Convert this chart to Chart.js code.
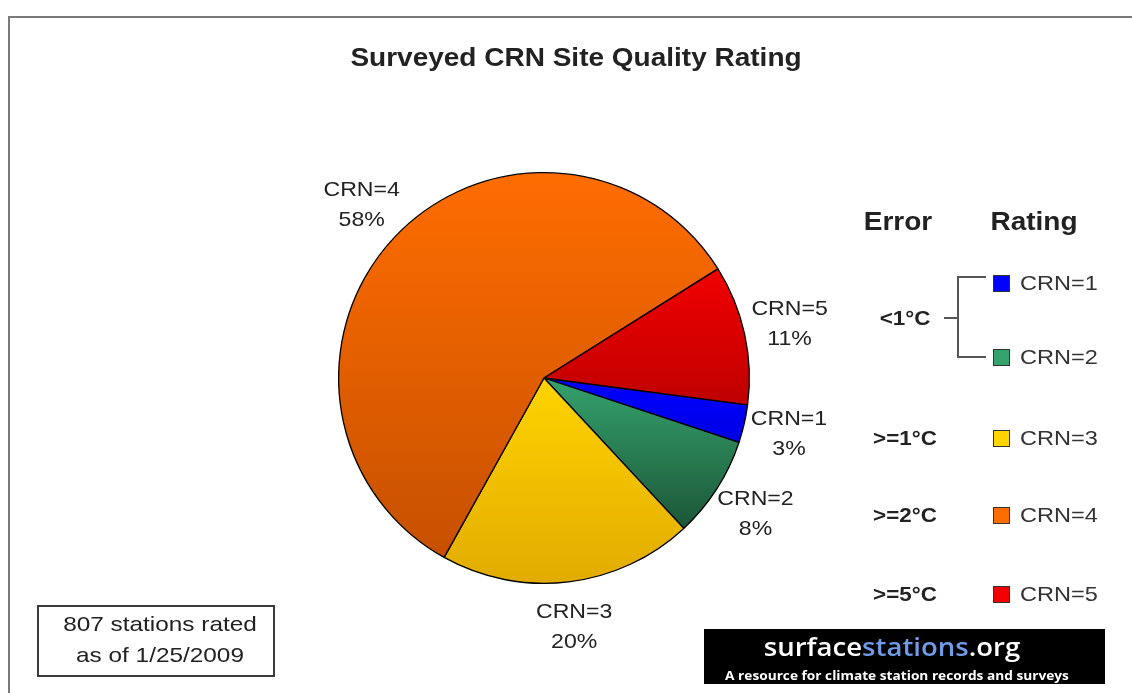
<!DOCTYPE html>
<html>
<head>
<meta charset="utf-8">
<title>Surveyed CRN Site Quality Rating</title>
<script src="https://cdn.jsdelivr.net/npm/chart.js@4.4.1/dist/chart.umd.min.js"></script>
<style>
    html, body { margin: 0; padding: 0; background: #fff; }
    #page {
        position: relative; width: 1132px; height: 693px; overflow: hidden;
        font-family: "Liberation Sans", Arial, sans-serif; color: #222;
    }
    #frame {
        position: absolute; left: 8px; top: 16px; width: 1200px; height: 800px;
        border-left: 2px solid #7a7a7a; border-top: 2px solid #7a7a7a;
    }
    canvas { position: absolute; left: 0; top: 0; }
    .t {
        position: absolute; white-space: nowrap; line-height: 1.2;
        transform: translate(-50%, -50%) scaleX(1.12);
    }
    .line { position: absolute; background: #555; }
    .swatch { position: absolute; width: 15px; height: 15px; border: 1px solid #333; }
    #note {
        position: absolute; left: 37px; top: 605px; width: 238px; height: 72px;
        box-sizing: border-box; border: 2px solid #3a3a3a;
    }
    #logo {
        position: absolute; left: 704px; top: 629px; width: 401px; height: 55px; background: #000;
        font-family: "Open Sans", sans-serif; color: #fff;
    }
</style>
</head>
<body>
<div id="page">
    <div id="frame"></div>
    <canvas id="chart-crn" width="1132" height="693"></canvas>

    <div class="t" style="left:576px; top:57px; font-weight:bold; font-size:25px;">Surveyed CRN Site Quality Rating</div>

    <div class="t" style="left:898px; top:221px; font-weight:bold; font-size:25px;">Error</div>
    <div class="t" style="left:1034px; top:221px; font-weight:bold; font-size:25px;">Rating</div>
    <div id="legend"></div>

    <div class="line" style="left:957px; top:276px; width:2px; height:82px;"></div>
    <div class="line" style="left:957px; top:276px; width:29px; height:2px;"></div>
    <div class="line" style="left:957px; top:356px; width:29px; height:2px;"></div>
    <div class="line" style="left:944px; top:317px; width:14px; height:2px;"></div>

    <div id="note"></div>
    <div class="t" style="left:160px; top:624px; font-size:21px; transform:translate(-50%,-50%) scaleX(1.16);">807 stations rated</div>
    <div class="t" style="left:160px; top:655px; font-size:21px; transform:translate(-50%,-50%) scaleX(1.16);">as of 1/25/2009</div>

    <div id="logo">
        <div class="t" style="left:188px; top:18px; font-weight:600; font-size:26px; transform:translate(-50%,-50%) scaleX(1.06);">surface<span style="color:#6f9be8">stations</span>.org</div>
        <div class="t" style="left:193px; top:47px; font-weight:bold; font-size:11.5px; transform:translate(-50%,-50%) scaleX(1.19);">A resource for climate station records and surveys</div>
    </div>
</div>

<script>
// CRN site rating shares (percent of 807 surveyed stations)
const categories = ["CRN=1", "CRN=2", "CRN=3", "CRN=4", "CRN=5"];
const shares = [3, 8, 20, 58, 11];
const errorBands = ["<1°C", ">=1°C", ">=2°C", ">=5°C"];

const topColors = ["#0000ff", "#34a26c", "#ffd400", "#ff6d00", "#f20000"];
const bottomColors = ["#0000e6", "#1c5638", "#e2ab00", "#c65000", "#bf0000"];

const ROTATION = 97.5;
const TEXT_SX = 1.1;
const LABEL_FONT = '21px "Liberation Sans", Arial, sans-serif';

// legend row centres (px)
const LEGEND_Y = [283, 357, 438, 515, 594];
const BAND_Y = [318, 438, 515, 594];

const total = shares.reduce((a, b) => a + b, 0);

function sliceFill(ctx) {
    const i = ctx.dataIndex;
    const area = ctx.chart.chartArea;
    if (i === undefined) return topColors[0];
    if (!area) return topColors[i];
    const cx = (area.left + area.right) / 2;
    const cy = (area.top + area.bottom) / 2;
    const r = Math.min(area.width, area.height) / 2;
    let start = (ROTATION - 90) * Math.PI / 180;
    for (let k = 0; k < i; k++) start += shares[k] / total * 2 * Math.PI;
    const end = start + shares[i] / total * 2 * Math.PI;
    let ymin = cy, ymax = cy;
    for (let a = start; a <= end + 0.001; a += 0.01) {
        const y = cy + r * Math.sin(Math.min(a, end));
        ymin = Math.min(ymin, y);
        ymax = Math.max(ymax, y);
    }
    const g = ctx.chart.ctx.createLinearGradient(0, ymin, 0, ymax);
    g.addColorStop(0, topColors[i]);
    g.addColorStop(1, bottomColors[i]);
    return g;
}

const outsideLabels = {
    id: "outsideLabels",
    afterDatasetsDraw(chart) {
        const c = chart.ctx;
        const meta = chart.getDatasetMeta(0);
        c.save();
        c.fillStyle = "#222";
        c.font = LABEL_FONT;
        c.textAlign = "center";
        c.textBaseline = "middle";
        meta.data.forEach((arc, i) => {
            const { x, y, startAngle, endAngle, outerRadius } =
                arc.getProps(["x", "y", "startAngle", "endAngle", "outerRadius"], true);
            const mid = (startAngle + endAngle) / 2;
            const d = outerRadius + 46;
            c.save();
            c.translate(x + Math.cos(mid) * d, y + Math.sin(mid) * d);
            c.scale(TEXT_SX, 1);
            c.fillText(categories[i], 0, -15);
            c.fillText(Math.round(shares[i] / total * 100) + "%", 0, 15);
            c.restore();
        });
        c.restore();
    }
};

function renderLegend() {
    const box = document.getElementById("legend");
    let html = "";
    categories.forEach((name, i) => {
        const y = LEGEND_Y[i];
        html += `<div class="swatch" style="left:993px; top:${y - 8}px; background:${topColors[i]};"></div>`;
        html += `<div class="t" style="left:1059px; top:${y}px; font-size:21px; color:#333;">${name}</div>`;
    });
    errorBands.forEach((band, i) => {
        html += `<div class="t" style="left:905px; top:${BAND_Y[i]}px; font-weight:bold; font-size:20px;">${band}</div>`;
    });
    box.innerHTML = html;
}

function renderChart() {
    new Chart(document.getElementById("chart-crn"), {
        type: "pie",
        data: {
            labels: categories,
            datasets: [{
                data: shares,
                backgroundColor: sliceFill,
                borderColor: "#000",
                borderWidth: 1.3,
            }]
        },
        options: {
            responsive: false,
            animation: false,
            rotation: ROTATION,
            layout: { padding: { left: 338, right: 382, top: 172, bottom: 109 } },
            plugins: {
                legend: { display: false },
                tooltip: { enabled: false },
            },
        },
        plugins: [outsideLabels],
    });
}

renderLegend();
renderChart();
</script>
</body>
</html>
